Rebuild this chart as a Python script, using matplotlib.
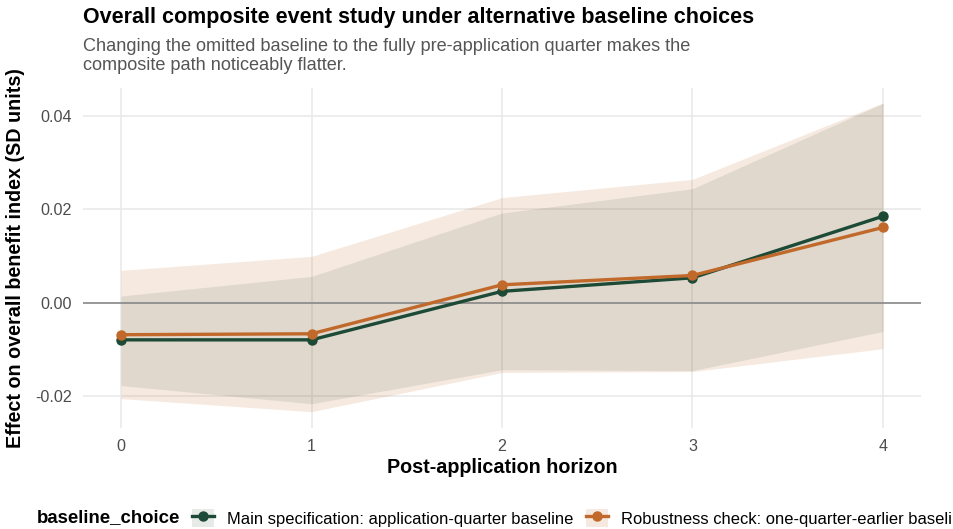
import numpy as np
import matplotlib
matplotlib.use("Agg")
import matplotlib.pyplot as plt
from matplotlib.lines import Line2D
from matplotlib.patches import Patch

plt.rcParams['font.family'] = ['Liberation Sans', 'DejaVu Sans']

# event-study estimates by horizon
horizon = [0, 1, 2, 3, 4]
main_est = [-0.0080, -0.0080, 0.0024, 0.0053, 0.0185]
main_lo = [-0.0178, -0.0217, -0.0144, -0.0146, -0.0062]
main_hi = [0.0014, 0.0056, 0.0192, 0.0244, 0.0427]
rob_est = [-0.0069, -0.0067, 0.0038, 0.0058, 0.0161]
rob_lo = [-0.0206, -0.0234, -0.0150, -0.0148, -0.0099]
rob_hi = [0.0069, 0.0099, 0.0225, 0.0264, 0.0428]

labels = ["Main specification: application-quarter baseline",
          "Robustness check: one-quarter-earlier baseline"]
green = "#1d4a36"
orange = "#c0692a"

fig = plt.figure(figsize=(9.54, 5.29), dpi=100)
ax = fig.add_axes([83/954, 1-428/529, (921-83)/954, (428-88)/529])

ax.fill_between(horizon, main_lo, main_hi, color=green, alpha=0.11, lw=0)
ax.fill_between(horizon, rob_lo, rob_hi, color=orange, alpha=0.14, lw=0)
ax.axhline(0, color="#8a8a8a", lw=1.2, zorder=2)
ax.plot(horizon, main_est, color=green, lw=2.4, marker='o', ms=6.5, zorder=4)
ax.plot(horizon, rob_est, color=orange, lw=2.4, marker='o', ms=6.5, zorder=5)

ax.set_xlim(-0.2, 4.2)
ax.set_ylim(-0.0269, 0.0460)
ax.set_xticks(horizon)
ax.set_yticks([-0.02, 0.0, 0.02, 0.04])
ax.set_yticklabels(["-0.02", "0.00", "0.02", "0.04"])
ax.grid(True, color="#e8e8e8", lw=1.1)
ax.set_axisbelow(True)
for s in ax.spines.values():
    s.set_visible(False)
ax.tick_params(length=0, labelsize=11.6, labelcolor="#4d4d4d", pad=8)
ax.set_xlabel("Post-application horizon", fontsize=14.2, fontweight='bold', labelpad=3)
ax.set_ylabel("Effect on overall benefit index (SD units)", fontsize=14.2,
              fontweight='bold', labelpad=7)

fig.text(83/954, 1-18/529, "Overall composite event study under alternative baseline choices",
         fontsize=15.5, fontweight='bold', va='center')
fig.text(83/954, 1-56/529,
         "Changing the omitted baseline to the fully pre-application quarter makes the\n"
         "composite path noticeably flatter.",
         fontsize=13.1, color="#555555", va='center', linespacing=1.1)

# legend along the bottom
fig.text(37/954, 1-518/529, "baseline_choice", fontsize=13.4, fontweight='bold', va='center')
handles = []
for c, a in [(green, 0.11), (orange, 0.14)]:
    handles.append((Patch(facecolor=c, alpha=a, lw=0),
                    Line2D([], [], color=c, lw=2.4, marker='o', ms=6.5)))
fig.legend(handles, labels, loc='center left', bbox_to_anchor=(185/954, 1-518/529),
           ncol=2, frameon=False, fontsize=11.9, handlelength=1.35, handleheight=1.35,
           columnspacing=0.75, handletextpad=0.8, borderaxespad=0)

fig.savefig("out.png", dpi=100)
